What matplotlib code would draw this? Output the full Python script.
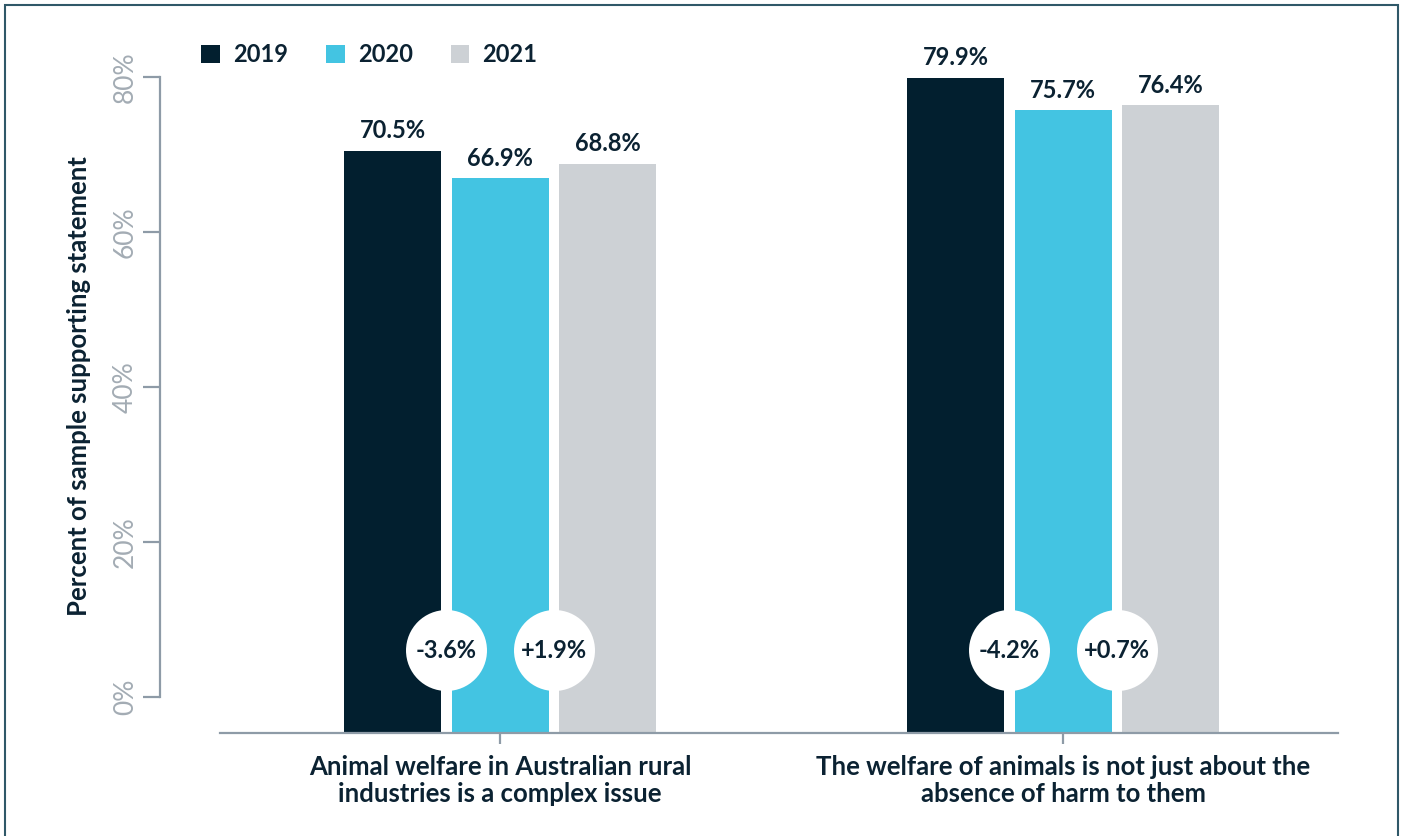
import matplotlib.pyplot as plt
from matplotlib.patches import Patch, Rectangle

plt.rcParams['font.family'] = ['Lato', 'DejaVu Sans']

# survey results, percent agreeing
categories = ["Animal welfare in Australian rural\nindustries is a complex issue",
              "The welfare of animals is not just about the\nabsence of harm to them"]
years = ["2019", "2020", "2021"]
values = {
    "2019": [70.5, 79.9],
    "2020": [66.9, 75.7],
    "2021": [68.8, 76.4],
}
yticks = [0, 20, 40, 60, 80]

colors = {"2019": "#021f2f", "2020": "#43c4e2", "2021": "#cdd1d5"}
text_dark = "#0b2232"
axis_col = "#8e9ba7"

fig = plt.figure(figsize=(14.05, 8.36), dpi=100)
ax = fig.add_axes([160 / 1405, 1 - 733 / 836, (1338 - 160) / 1405, 693 / 836])

ymin, ymax = -4.645, 84.77
ax.set_ylim(ymin, ymax)
ax.set_xlim(-0.604, 1.488)

width = 0.172
offsets = [-0.191, 0.0, 0.191]
xs = list(range(len(categories)))

for yr, off in zip(years, offsets):
    vals = values[yr]
    pos = [x + off for x in xs]
    ax.bar(pos, [v - ymin for v in vals], bottom=ymin, width=width,
           color=colors[yr], zorder=2)
    for p, v in zip(pos, vals):
        ax.annotate(f"{v:.1f}%", (p, v), xytext=(0, 6), textcoords="offset points",
                    ha="center", va="bottom", fontsize=17, fontweight="bold",
                    color=text_dark)

# year-on-year change bubbles between neighbouring bars
for i in range(len(categories)):
    for a, b, oa, ob in [("2019", "2020", offsets[0], offsets[1]),
                         ("2020", "2021", offsets[1], offsets[2])]:
        diff = values[b][i] - values[a][i]
        cx = i + (oa + ob) / 2
        ax.scatter([cx], [6.06], s=3400, color="white", zorder=3, linewidths=0)
        ax.text(cx, 6.06, f"{diff:+.1f}%", ha="center", va="center", fontsize=17,
                fontweight="bold", color=text_dark, zorder=4)

# axes styling
for s in ["top", "right"]:
    ax.spines[s].set_visible(False)
ax.spines["left"].set_bounds(0, 80)
ax.spines["bottom"].set_bounds(-0.497, 1.488)
for s in ["left", "bottom"]:
    ax.spines[s].set_color(axis_col)
    ax.spines[s].set_linewidth(1.6)

ax.set_yticks(yticks)
ax.set_yticklabels([f"{v}%" for v in yticks], rotation=90, va="center",
                   fontsize=19, color="#a3acb4")
ax.tick_params(axis="y", length=12, width=1.6, color=axis_col, pad=4)

ax.set_xticks(xs)
ax.set_xticklabels(categories, fontsize=18.5, fontweight="bold", color=text_dark,
                   linespacing=1.15)
ax.tick_params(axis="x", length=8, width=1.6, color=axis_col, pad=8)

ax.set_ylabel("Percent of sample supporting statement", fontsize=18.5,
              fontweight="bold", color=text_dark, labelpad=16)

handles = [Patch(facecolor=colors[y], edgecolor="none", label=y) for y in years]
leg = fig.legend(handles=handles, loc="upper left", ncol=3, frameon=False,
                 bbox_to_anchor=(180 / 1405, 1 - 22 / 836), fontsize=17,
                 handlelength=0.8, handleheight=0.8, handletextpad=0.55,
                 columnspacing=1.6)
for t in leg.get_texts():
    t.set_fontweight("bold")
    t.set_color(text_dark)

# frame around the panel
fig.patches.append(Rectangle((5 / 1405, -0.02), 1393 / 1405, 1.02 - 5 / 836,
                             transform=fig.transFigure, fill=False,
                             edgecolor="#2f5868", linewidth=1.5))

fig.savefig("out.png", dpi=100)
